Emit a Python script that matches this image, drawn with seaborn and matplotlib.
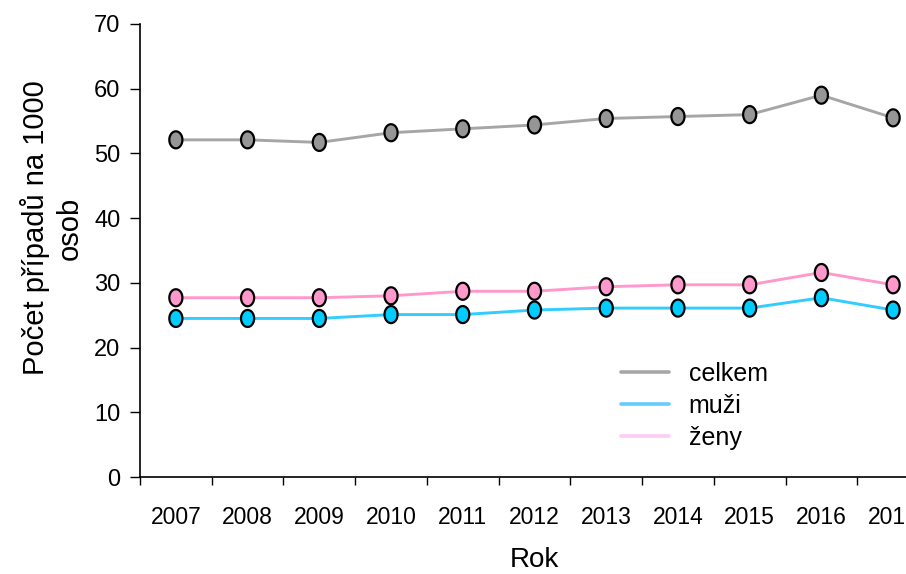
import numpy as np
import pandas as pd
import matplotlib
matplotlib.use("Agg")
import matplotlib.pyplot as plt
import seaborn as sns
from matplotlib.lines import Line2D

years = ["2007", "2008", "2009", "2010", "2011", "2012", "2013", "2014", "2015", "2016", "2017"]
celkem = [52.1, 52.1, 51.7, 53.2, 53.8, 54.4, 55.4, 55.7, 56.0, 59.0, 55.5]
muzi = [24.5, 24.5, 24.5, 25.1, 25.1, 25.8, 26.1, 26.1, 26.1, 27.7, 25.8]
zeny = [27.7, 27.7, 27.7, 28.0, 28.7, 28.7, 29.4, 29.7, 29.7, 31.6, 29.7]
series_names = ["celkem", "muži", "ženy"]
line_colors = ["#A6A6A6", "#33CCFF", "#FF99CC"]
marker_colors = ["#969696", "#00CCFF", "#FF99CC"]
legend_colors = ["#A6A6A6", "#66CCFF", "#FFCCF5"]

sns.set_style("white")
plt.rcParams['font.family'] = ['Liberation Sans', 'DejaVu Sans']
plt.rcParams['text.color'] = 'black'
plt.rcParams['axes.labelcolor'] = 'black'
plt.rcParams['xtick.color'] = 'black'
plt.rcParams['ytick.color'] = 'black'

rows = []
for name, vals in zip(series_names, [celkem, muzi, zeny]):
    for i, (y, v) in enumerate(zip(years, vals)):
        rows.append({"idx": i, "rok": y, "value": v, "series": name})
df = pd.DataFrame(rows)

fig = plt.figure(figsize=(9.06, 5.74), dpi=100)
ax = fig.add_axes([140/906, 1-477/574, (929-140)/906, (477-24)/574])

sns.lineplot(data=df, x="idx", y="value", hue="series", hue_order=series_names,
             palette=line_colors, linewidth=2.1, ax=ax, legend=False, zorder=2)

t = np.linspace(0, 2*np.pi, 60)
ell = list(zip(0.77*np.cos(t), np.sin(t)))
sns.scatterplot(data=df, x="idx", y="value", hue="series", hue_order=series_names,
                palette=marker_colors, marker=ell, s=150, edgecolor="black",
                linewidth=1.6, ax=ax, legend=False, zorder=3)

ax.set_xlim(-0.5, 10.5)
ax.set_ylim(0, 70)
ax.set_yticks(range(0, 71, 10))
ax.set_xticks(np.arange(-0.5, 11, 1))
ax.set_xticklabels([])
ax.set_xticks(range(len(years)), minor=True)
ax.set_xticklabels(years, minor=True)
ax.tick_params(axis="x", which="major", direction="out", length=6, width=1, color="black", bottom=True)
ax.tick_params(axis="x", which="minor", length=0, pad=21, labelsize=16.5)
ax.tick_params(axis="y", direction="out", length=7, width=1, color="black", left=True, labelsize=17, pad=7)
for s in ["top", "right"]:
    ax.spines[s].set_visible(False)
for s in ["left", "bottom"]:
    ax.spines[s].set_color("black")
    ax.spines[s].set_linewidth(1.2)

ax.set_xlabel("Rok", fontsize=20)
ax.xaxis.set_label_coords(0.5, -(560 - 477) / 453, transform=ax.transAxes)
ax.xaxis.label.set_va("center")
ax.set_ylabel("Počet případů na 1000\nosob", fontsize=21, linespacing=1.27)
ax.yaxis.set_label_coords((84 - 140) / 789, (477 - 228) / 453)
ax.yaxis.label.set_va("bottom")

handles = [Line2D([0], [0], color=c, lw=2.6) for c in legend_colors]
fig.legend(handles, series_names, loc="upper left", bbox_to_anchor=(621/906, 1-362/574),
           frameon=False, fontsize=18, handlelength=1.9, handletextpad=0.8,
           labelspacing=0.31, borderpad=0, borderaxespad=0)

fig.savefig("out.png", dpi=100)
